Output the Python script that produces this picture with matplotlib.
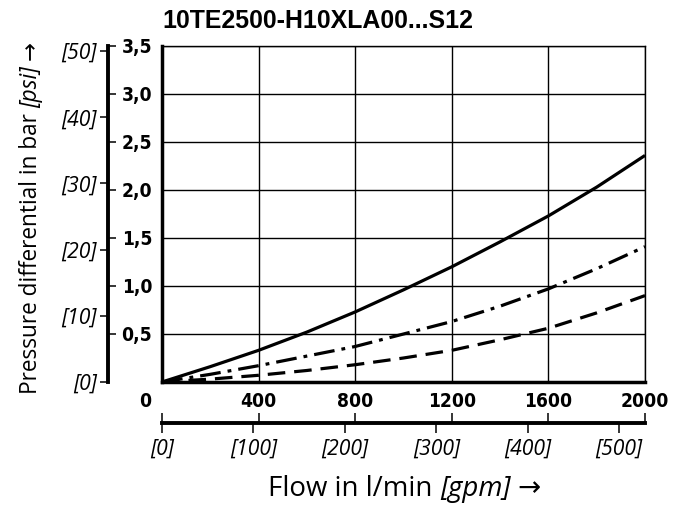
import matplotlib
matplotlib.use('Agg')
import matplotlib.pyplot as plt
from matplotlib import font_manager
from matplotlib.font_manager import FontProperties
from matplotlib.transforms import ScaledTranslation

# Data
flow = [0, 200, 400, 600, 800, 1000, 1200, 1400, 1600, 1800, 2000]          # l/min
dp_solid = [0, 0.16, 0.33, 0.52, 0.73, 0.96, 1.20, 1.46, 1.73, 2.03, 2.36]    # bar
dp_dashdot = [0, 0.08, 0.17, 0.27, 0.37, 0.50, 0.63, 0.79, 0.97, 1.18, 1.41]
dp_dashed = [0, 0.03, 0.07, 0.12, 0.18, 0.25, 0.33, 0.44, 0.56, 0.72, 0.90]

flow_ticks = [0, 400, 800, 1200, 1600, 2000]
flow_labels = ['0', '400', '800', '1200', '1600', '2000']
bar_ticks = [0.5, 1.0, 1.5, 2.0, 2.5, 3.0, 3.5]
bar_labels = ['0,5', '1,0', '1,5', '2,0', '2,5', '3,0', '3,5']
psi_ticks = [0, 10, 20, 30, 40, 50]
psi_labels = ['[0]', '[10]', '[20]', '[30]', '[40]', '[50]']
gpm_ticks = [0, 100, 200, 300, 400, 500]
gpm_labels = ['[0]', '[100]', '[200]', '[300]', '[400]', '[500]']

BAR_TO_PSI = 14.5038
LMIN_PER_GPM = 3.78541
FLOW_MAX = 2000
DP_MAX = 3.5

title = '10TE2500-H10XLA00...S12'
ylabel_parts = [('Pressure differential in bar', 'normal'), ('[psi]', 'italic'), ('\u2192', 'normal')]
xlabel_parts = [('Flow in l/min', 'normal'), ('[gpm]', 'italic'), ('\u2192', 'normal')]

W, H = 683, 505
fig = plt.figure(figsize=(W / 100, H / 100), dpi=100)
renderer = fig.canvas.get_renderer()
txt_family = ['Open Sans', 'DejaVu Sans']


def text_width(s, fp):
    t = fig.text(0, 0, s, fontproperties=fp)
    w = t.get_window_extent(renderer).width
    t.remove()
    return w


def fx(px):
    return px / W


def fy(py):
    return 1 - py / H


# look for a narrow bold face for the numbers
narrow = None
for key in ['LiberationSansNarrow-Bold.', 'DejaVuSansCondensed-Bold.', 'Narrow-Bold', 'Condensed-Bold',
            'SemiCondensed-Bold']:
    hits = [f.fname for f in font_manager.fontManager.ttflist
            if key in f.fname and 'Italic' not in f.fname and 'Oblique' not in f.fname]
    if hits:
        narrow = hits[0]
        break

if narrow:
    num_fp = lambda size: FontProperties(fname=narrow, size=size)
    num_size = 1.15 * 10 * 42 / text_width('2000', num_fp(10))
else:
    num_fp = lambda size: FontProperties(family=['Liberation Sans'], weight='bold', size=size)
    num_size = 14.5

psi_fp = lambda size: FontProperties(family=txt_family, style='italic', size=size)
psi_size = 10 * 47 / text_width('[100]', psi_fp(10))


def rich_text(parts, center_px, base_px, length_px, rotation=0):
    # measure at size 10, then scale to the wanted length
    def measure(size):
        ws = [text_width(s, FontProperties(family=txt_family, style=st, size=size)) for s, st in parts]
        fp = FontProperties(family=txt_family, size=size)
        sp = text_width('a a', fp) - text_width('aa', fp)
        return ws, sp
    ws, sp = measure(10)
    size = 10 * length_px / (sum(ws) + sp * (len(parts) - 1))
    ws, sp = measure(size)
    total = sum(ws) + sp * (len(parts) - 1)
    pos = center_px - total / 2
    for (s, st), w in zip(parts, ws):
        fp = FontProperties(family=txt_family, style=st, size=size)
        if rotation == 0:
            fig.text(fx(pos), fy(base_px), s, fontproperties=fp, ha='left', va='baseline')
        else:
            # vertical text running upward; pos counts from the bottom
            fig.text(fx(base_px), pos / H, s, fontproperties=fp, rotation=90,
                     rotation_mode='anchor', ha='left', va='baseline')
        pos += w + sp


# Main chart area
ax = fig.add_axes([fx(162), fy(382), 483 / W, 336 / H])
ax.plot(flow, dp_solid, color='black', lw=2.3, solid_capstyle='butt')
ax.plot(flow, dp_dashdot, color='black', lw=2.3, dashes=(6.5, 2.2, 1.2, 2.2), dash_capstyle='butt')
ax.plot(flow, dp_dashed, color='black', lw=2.3, dashes=(5.5, 2.8), dash_capstyle='butt')
ax.set_xlim(0, FLOW_MAX)
ax.set_ylim(0, DP_MAX)
ax.set_xticks(flow_ticks, flow_labels)
ax.set_yticks(bar_ticks, bar_labels)
ax.grid(True, color='black', lw=1.0)
ax.tick_params(length=0)
ax.tick_params(axis='x', pad=7)
ax.tick_params(axis='y', pad=7)
for lab in ax.get_xticklabels() + ax.get_yticklabels():
    lab.set_fontproperties(num_fp(num_size))
# origin label sits left of the corner
first = ax.get_xticklabels()[0]
first.set_transform(first.get_transform() + ScaledTranslation(-0.17, 0, fig.dpi_scale_trans))
for side in ['left', 'bottom']:
    ax.spines[side].set_linewidth(2.5)
for side in ['top', 'right']:
    ax.spines[side].set_linewidth(1.0)

# Left scale line: psi ticks outside, bar ticks inside
ax_psi = fig.add_axes([fx(108), fy(382), 0.0005, 336 / H])
ax_psi.patch.set_visible(False)
for side in ['top', 'right', 'bottom']:
    ax_psi.spines[side].set_visible(False)
ax_psi.spines['left'].set_linewidth(2.8)
ax_psi.set_xticks([])
ax_psi.set_ylim(0, DP_MAX * BAR_TO_PSI)
ax_psi.set_yticks(psi_ticks, psi_labels)
ax_psi.tick_params(axis='y', length=6, width=1.1, pad=2)
for lab in ax_psi.get_yticklabels():
    lab.set_fontproperties(psi_fp(psi_size))

ax_barl = ax_psi.twinx()
for side in ax_barl.spines:
    ax_barl.spines[side].set_visible(False)
ax_barl.set_ylim(0, DP_MAX)
ax_barl.set_yticks(bar_ticks)
ax_barl.tick_params(axis='y', length=5.5, width=1.1, labelright=False)

# Bottom scale line: l/min ticks above, gpm ticks below
ax_gpm = fig.add_axes([fx(162), fy(423), 483 / W, 0.0005])
ax_gpm.patch.set_visible(False)
for side in ['top', 'right', 'left']:
    ax_gpm.spines[side].set_visible(False)
ax_gpm.spines['bottom'].set_linewidth(2.8)
ax_gpm.set_yticks([])
ax_gpm.set_xlim(0, FLOW_MAX / LMIN_PER_GPM)
ax_gpm.set_xticks(gpm_ticks, gpm_labels)
ax_gpm.tick_params(axis='x', length=7, width=1.1, pad=4)
for lab in ax_gpm.get_xticklabels():
    lab.set_fontproperties(psi_fp(psi_size))

ax_lmin = ax_gpm.twiny()
for side in ax_lmin.spines:
    ax_lmin.spines[side].set_visible(False)
ax_lmin.set_xlim(0, FLOW_MAX)
ax_lmin.set_xticks(flow_ticks)
ax_lmin.tick_params(axis='x', length=7, width=1.1, labeltop=False)

# Title and axis labels
title_fp = FontProperties(family=['Liberation Sans'], weight='bold', size=10)
title_size = 10 * 311 / text_width(title, title_fp)
fig.text(fx(162), fy(28), title, fontsize=title_size, fontweight='bold',
         fontfamily=['Liberation Sans'], ha='left', va='baseline')
rich_text(ylabel_parts, (H - 395 + H - 40) / 2, 37, 355, rotation=90)
rich_text(xlabel_parts, (268 + 541) / 2, 496, 273)

fig.savefig('out.png', dpi=100)
